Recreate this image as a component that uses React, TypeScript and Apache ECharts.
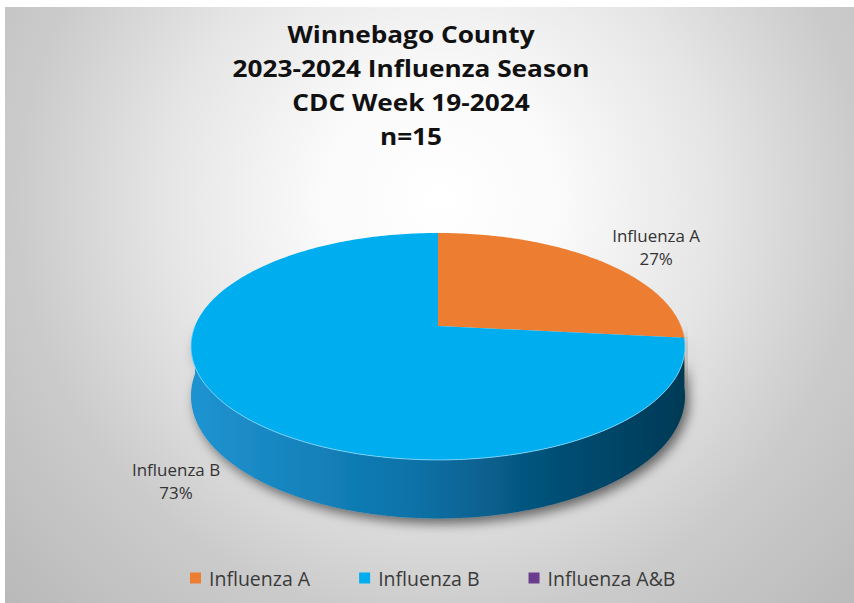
import React, { useEffect, useRef } from "react";
import * as echarts from "echarts";

const titleLines = ["Winnebago County", "2023-2024 Influenza Season", "CDC Week 19-2024", "n=15"];
const categories = ["Influenza A", "Influenza B", "Influenza A&B"];
const counts = [4, 11, 0];
const topColors = ["#ED7D31", "#00ADEF", "#6B3D8F"];
const sideColorsLeft = ["#D46A20", "#1F93D0", "#5A2F7A"];
const sideColorsRight = ["#8A430F", "#013A56", "#2E1540"];

const FONT = "'Open Sans', 'Liberation Sans', sans-serif";

// pie geometry (perspective ellipse)
const CX = 438;
const CY = 326;
const RX = 243;
const RY = 109.8;
const K = 0.18;
const H = 48;

function proj(theta: number, s: number, dz: number): number[] {
  const t = (theta * Math.PI) / 180;
  const u = Math.sin(t) * s;
  const d = Math.cos(t) * s;
  const f = 1 / (1 + K * Math.cos(t) * Math.min(s, 1));
  return [CX + RX * u * f, CY - RY * d * f + dz * f];
}

function rim(a: number, b: number, dz: number): number[][] {
  const pts: number[][] = [];
  const n = Math.max(2, Math.ceil(Math.abs(b - a)));
  for (let i = 0; i <= n; i++) {
    pts.push(proj(a + ((b - a) * i) / n, 1, dz));
  }
  return pts;
}

export default function App() {
  const ref = useRef<HTMLDivElement>(null);
  useEffect(() => {
    if (!ref.current) return;
    const chart = echarts.init(ref.current, undefined, { renderer: "svg" });
    const total = counts.reduce((a, b) => a + b, 0);

    const series = categories.map((name, i) => {
      const before = counts.slice(0, i).reduce((a, b) => a + b, 0);
      return {
        type: "custom",
        name,
        coordinateSystem: "none",
        itemStyle: { color: topColors[i] },
        data: [[counts[i]]],
        renderItem: (params: any, api: any) => {
          const v = api.value(0);
          if (!v) return { type: "group", children: [] };
          const start = (before / total) * 360;
          const end = start + (v / total) * 360;
          const children: any[] = [];
          // side wall (front visible part)
          const a = Math.max(start, 90);
          const b = Math.min(end, 270);
          if (a < b) {
            const topR = rim(a, b, 0);
            const botR = rim(a, b, H).reverse();
            children.push({
              type: "polygon",
              z2: 1,
              shape: { points: topR.concat(botR) },
              style: {
                fill: new echarts.graphic.LinearGradient(
                  CX - RX,
                  0,
                  CX + RX,
                  0,
                  [
                    { offset: 0, color: sideColorsLeft[i] },
                    { offset: 0.45, color: i === 1 ? "#0B72A8" : sideColorsLeft[i] },
                    { offset: 0.75, color: i === 1 ? "#044E74" : sideColorsRight[i] },
                    { offset: 1, color: sideColorsRight[i] },
                  ],
                  true
                ),
                shadowBlur: 12,
                shadowOffsetX: 4,
                shadowOffsetY: 5,
                shadowColor: "rgba(0,0,0,0.55)",
              },
            });
          }
          // top face
          const topPts = [proj(0, 0, 0)].concat(rim(start, end, 0));
          children.push({
            type: "polygon",
            z2: 10,
            shape: { points: topPts },
            style: { fill: topColors[i] },
          });
          if (a < b) {
            children.push({
              type: "polyline",
              z2: 11,
              shape: { points: rim(a, b, 0) },
              style: { stroke: i === 1 ? "rgba(140,220,255,0.8)" : "rgba(255,190,140,0.6)", lineWidth: 1, fill: null },
            });
          }
          // label
          const mid = (start + end) / 2;
          const dm = Math.cos((mid * Math.PI) / 180);
          const lp = proj(mid, 1.31, H * (0.5 - 0.5 * dm));
          const pct = Math.round((v / total) * 100);
          children.push({
            type: "text",
            z2: 20,
            x: lp[0] + 7,
            y: lp[1],
            scaleX: 1.06,
            style: {
              text: name + "\n" + pct + "%",
              x: 0,
              y: 0,
              align: "center",
              verticalAlign: "middle",
              fontSize: 16,
              lineHeight: 23,
              fontFamily: FONT,
              fill: "#333333",
            },
          });
          return { type: "group", children };
        },
      };
    });

    const titleBaselines = [46, 79.5, 114, 147.5];

    chart.setOption({
      animation: false,
      backgroundColor: "#FFFFFF",
      legend: {
        data: categories,
        top: 563,
        left: 185,
        icon: "rect",
        itemWidth: 11,
        itemHeight: 11,
        itemGap: 49,
        selectedMode: false,
        textStyle: { fontSize: 19.5, color: "#3A3A3A", fontFamily: FONT, padding: [0, 0, 0, 3] },
      },
      graphic: [
        {
          type: "rect",
          z: -10,
          silent: true,
          shape: { x: 5, y: 7, width: 849, height: 596 },
          style: {
            fill: new echarts.graphic.RadialGradient(
              440,
              200,
              600,
              [
                { offset: 0, color: "#FFFFFF" },
                { offset: 0.2, color: "#FAFAFA" },
                { offset: 0.45, color: "#E6E6E6" },
                { offset: 0.7, color: "#CBCBCB" },
                { offset: 0.78, color: "#C6C6C6" },
                { offset: 1, color: "#B8B8B8" },
              ],
              true
            ),
          },
        },
        ...titleLines.map((t, i) => ({
          type: "text",
          z: 10,
          silent: true,
          x: 411,
          y: titleBaselines[i],
          scaleX: 1.14,
          style: {
            text: t,
            x: 0,
            y: 0,
            align: "center",
            verticalAlign: "bottom",
            fontSize: 23,
            fontWeight: "bold",
            fontFamily: FONT,
            fill: "#111111",
          },
        })),
      ],
      series,
    } as any);
    return () => chart.dispose();
  }, []);
  return (
    <div
      ref={ref}
      style={{ position: "absolute", left: 0, top: 0, width: 854, height: 603 }}
    />
  );
}
